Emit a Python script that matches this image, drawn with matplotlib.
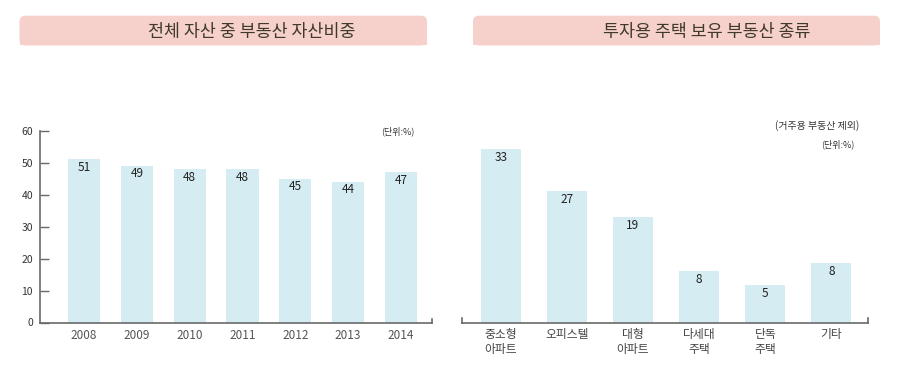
import matplotlib.pyplot as plt
from matplotlib.patches import FancyBboxPatch, Rectangle
from matplotlib.transforms import Affine2D

plt.rcParams['font.family'] = ['Noto Sans CJK KR', 'DejaVu Sans']

# left chart: share of real estate in total assets
years = ['2008', '2009', '2010', '2011', '2012', '2013', '2014']
share = [51, 49, 48, 48, 45, 44, 47]

# right chart: types of investment real estate
types = ['중소형\n아파트', '오피스텔', '대형\n아파트', '다세대\n주택', '단독\n주택', '기타']
type_labels = [33, 27, 19, 8, 5, 8]
# bar heights as drawn in the picture (not proportional to the labels)
type_heights = [33, 25.0, 20.0, 9.7, 7.1, 11.4]

BAR = '#d5edf2'
AXIS = '#6a6a6a'
TXT = '#333333'
TITLE = '#3f3a2c'
BANNER = '#f6d0cb'

W, H = 900, 373
fig = plt.figure(figsize=(9, 3.73), dpi=100)

# pixel coords (y from top) -> figure
px = Affine2D().scale(1, -1).translate(0, H) + Affine2D().scale(1 / 100) + fig.dpi_scale_trans


def rect(x0, y0, x1, y1):
    return [x0 / W, (H - y1) / H, (x1 - x0) / W, (y1 - y0) / H]


def banner(x0, x1, title, cx):
    y0, y1 = 15.7, 45.5
    box = FancyBboxPatch((x0, y0), x1 - x0, y1 - y0,
                         boxstyle='round,pad=0,rounding_size=6',
                         transform=px, facecolor=BANNER, edgecolor='none')
    fig.patches.append(box)
    fig.patches.append(Rectangle((x0, y0 + 10), x1 - x0, y1 - y0 - 10,
                                 transform=px, facecolor=BANNER, edgecolor='none'))
    fig.text(cx, 32, title, transform=px, ha='center', va='center',
             fontsize=12.5, color=TITLE)


banner(19.5, 427, '전체 자산 중 부동산 자산비중', 252)
banner(473, 880, '투자용 주택 보유 부동산 종류', 707)

# ---- left
ax1 = fig.add_axes(rect(40, 130.7, 432, 322.5))
x1 = range(len(years))
bars = ax1.bar(x1, share, width=0.606, color=BAR, zorder=1)
for b, v in zip(bars, share):
    ax1.annotate(str(v), (b.get_x() + b.get_width() / 2, v), xytext=(0, -8),
                 textcoords='offset pixels', ha='center', va='center',
                 fontsize=8.5, color='#222222')
ax1.set_xlim(-0.833, 6.587)
ax1.set_ylim(0, 60)
ax1.set_yticks(range(0, 61, 10))
ax1.set_xticks(list(x1))
ax1.set_xticklabels(years, fontsize=8.5, color='#555555')
ax1.tick_params(axis='x', length=0, pad=5)
ax1.tick_params(axis='y', direction='in', length=6.5, width=1, color=AXIS,
                labelsize=7.5, labelcolor=TXT, pad=5)
for s in ['top', 'right']:
    ax1.spines[s].set_visible(False)
for s in ['left', 'bottom']:
    ax1.spines[s].set_color(AXIS)
    ax1.spines[s].set_linewidth(1.2)
ax1.plot([1, 1], [0, 0.018], transform=ax1.transAxes, color=AXIS, lw=1.2,
         clip_on=False)
ax1.patch.set_visible(False)
fig.text(415, 131, '(단위:%)', transform=px, ha='right', va='center',
         fontsize=6.5, color=TXT)

# ---- right
ax2 = fig.add_axes(rect(462, 130.5, 868, 322.5))
x2 = range(len(types))
bars2 = ax2.bar(x2, type_heights, width=0.605, color=BAR, zorder=1)
for b, v in zip(bars2, type_labels):
    ax2.annotate(str(v), (b.get_x() + b.get_width() / 2, b.get_height()),
                 xytext=(0, -8.5), textcoords='offset pixels', ha='center',
                 va='center', fontsize=8.5, color='#222222')
ax2.set_xlim(-0.585, 5.553)
ax2.set_ylim(0, 36.5)
ax2.set_yticks([])
ax2.set_xticks(list(x2))
ax2.set_xticklabels(types, fontsize=8.5, color='#444444', linespacing=1.2,
                    va='top')
ax2.tick_params(axis='x', length=0, pad=4)
for s in ['top', 'right', 'left']:
    ax2.spines[s].set_visible(False)
ax2.spines['bottom'].set_color(AXIS)
ax2.spines['bottom'].set_linewidth(1.2)
for xe in (0, 1):
    ax2.plot([xe, xe], [0, 0.022], transform=ax2.transAxes, color=AXIS,
             lw=1.2, clip_on=False)
ax2.patch.set_visible(False)
fig.text(859, 126, '(거주용 부동산 제외)', transform=px, ha='right',
         va='center', fontsize=7.2, color=TXT)
fig.text(855, 144, '(단위:%)', transform=px, ha='right', va='center',
         fontsize=6.5, color=TXT)

fig.savefig('out.png', dpi=100, facecolor='white')
